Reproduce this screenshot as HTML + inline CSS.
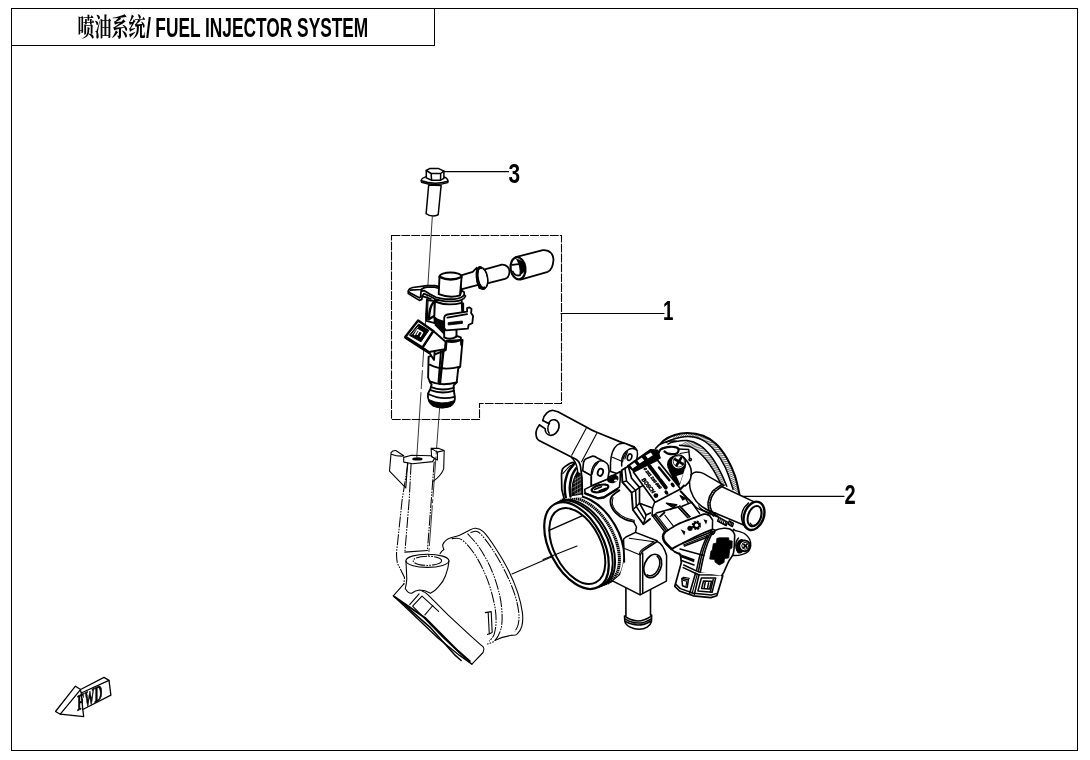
<!DOCTYPE html>
<html><head><meta charset="utf-8"><title>喷油系统/ FUEL INJECTOR SYSTEM</title>
<style>
html,body{margin:0;padding:0;background:#fff;}
body{width:1090px;height:760px;overflow:hidden;position:relative;}
svg{position:absolute;left:0;top:0;display:block;filter:grayscale(1);}
.k{fill:none;stroke:#000;stroke-width:1.5;stroke-linejoin:round;stroke-linecap:round;}
.t{fill:none;stroke:#000;stroke-width:1.1;stroke-linejoin:round;stroke-linecap:round;}
.h{fill:none;stroke:#000;stroke-width:2;stroke-linejoin:round;stroke-linecap:round;}
.w{fill:#fff;stroke:#000;stroke-width:1.5;stroke-linejoin:round;stroke-linecap:round;}
.p{fill:none;stroke:#000;stroke-width:1.05;stroke-dasharray:11 1.2 1.6 1.2 1.6 1.2;}
#inj .k,#inj .w{stroke-width:1.9}#inj .h{stroke-width:2.4}#tube .w,#tube .k,#sleeve .w,#sleeve .k{stroke-width:1.8}
.lbl{font-family:"Liberation Sans",sans-serif;font-weight:bold;font-size:26px;fill:#000;}
</style></head><body>
<svg width="1090" height="760" viewBox="0 0 1090 760">
<!-- FRAME -->
<g fill="none" stroke="#000" stroke-width="1" shape-rendering="crispEdges">
<rect x="11.5" y="8.5" width="1066" height="742"/>
<path d="M11.5 45.5H434.5V8.5"/>
</g>
<!-- TITLE -->
<text id="tcn" x="77.5" y="36.2" font-family="'Liberation Serif','Noto Serif CJK SC',serif" font-weight="bold" font-size="24.5" textLength="68" lengthAdjust="spacingAndGlyphs">喷油系统</text>
<text id="tsl" class="lbl" x="146" y="36.9" style="font-size:27px" textLength="5" lengthAdjust="spacingAndGlyphs">/</text>
<text id="ten" class="lbl" x="155.3" y="36.9" style="font-size:27px" textLength="213" lengthAdjust="spacingAndGlyphs">FUEL INJECTOR SYSTEM</text>
<!-- LABELS -->
<g id="labels">
<text class="lbl" x="508.4" y="183.4" style="font-size:28px" textLength="11.6" lengthAdjust="spacingAndGlyphs">3</text>
<text class="lbl" x="663" y="320.4" style="font-size:28px" textLength="10.4" lengthAdjust="spacingAndGlyphs">1</text>
<text class="lbl" x="844.5" y="504.3" style="font-size:28px" textLength="11.2" lengthAdjust="spacingAndGlyphs">2</text>
</g>
<!-- LEADERS -->
<g id="leaders" class="t" style="stroke-width:1.2">
<path d="M443.5 171.7H508.5"/>
<path d="M561 313.5H664"/>
<path d="M739.5 496.3H844"/>
</g>
<!-- DASHED BOX -->
<path id="dbox" d="M391.5 235.5H561.5V403.5H479.5V419.5H391.5Z" fill="none" stroke="#000" stroke-width="1.1" stroke-dasharray="8.8 1.1"/>
<!-- MANIFOLD (phantom) -->
<g id="manifold">
<!-- axis manifold-throttle -->
<path class="t" d="M512 574L577 546"/>
<!-- boss ears + top -->
<path class="t" d="M391.1 452.6Q392.5 450.3 395.8 450.5L403.7 455.8M391.1 452.6L389.5 471.1L405.8 487.9L407.6 463M391.4 454.2Q397 456.5 403.7 456"/>
<path class="t" d="M403.7 457.4L411.6 455.3L430.5 455.8L434.7 458.4L432.6 461.6L412.6 463.7L403.7 462.1Z"/>
<ellipse cx="417.4" cy="458.9" rx="5.2" ry="1.7" fill="#000"/>
<path class="t" d="M431.1 448.4H438.9L444.2 450.5L443.7 468.9Q441 476 432.8 481.6M431.1 448.4L431.6 456.8L437.4 460V452.1L444.2 450.5M431.1 448.4L437.4 452.1"/>
<!-- column -->
<path class="p" d="M407.9 463.7L402.1 500L396.6 552.1Q396.3 558 397.4 563.2L404.5 577.4L403.7 585.3"/>
<path class="p" d="M411.1 463.7L409.2 500L404.9 552.1"/>
<path class="p" d="M434.2 461.6L431.3 500L427.4 550.5"/>
<path class="t" d="M404.9 552.1L427.4 550.5"/>
<!-- cup -->
<ellipse class="t" cx="427.4" cy="560.8" rx="21.5" ry="6.6" fill="#fff"/>
<ellipse class="p" cx="427.4" cy="560.8" rx="14.2" ry="4.6"/>
<path class="t" d="M406 561L406.8 579Q406.5 584 405.3 588.4Q408 593.5 411.6 593.2Q415.5 590.5 419.5 590Q425 590 430.5 593.2Q435 591 438.4 586.8Q443.5 581.5 445.5 575.8Q448.5 568 449 561"/>
<!-- boot outlines -->
<path class="t" d="M443.8 549.5C443.6 548.7 442.3 546.1 442.8 544.5C443.3 542.9 445.3 540.8 446.8 539.6C448.3 538.5 449.6 538.3 451.7 537.6C453.8 536.9 456.8 536.4 459.6 535.3C462.4 534.1 465.9 531.9 468.5 530.7C471.1 529.5 472.9 528.0 475.4 528.2C477.9 528.4 480.0 528.5 483.3 531.7C486.6 534.9 490.8 540.9 495.1 547.5C499.4 554.1 505.1 563.6 508.9 571.2C512.7 578.8 515.5 586.0 517.8 592.9C520.0 599.8 521.7 607.0 522.4 612.6C523.1 618.2 522.7 622.8 521.8 626.4C520.9 630.0 518.4 632.8 516.8 634.3C515.1 635.8 512.7 635.1 511.9 635.3"/>
<path class="p" d="M470.5 532.7C471.4 532.5 474.2 530.9 476.0 531.2C477.8 531.5 478.4 531.5 481.3 534.7C484.2 537.9 489.1 544.1 493.2 550.5C497.3 556.9 502.4 565.8 506.0 573.2C509.6 580.6 512.8 588.3 514.9 594.9C517.0 601.5 518.2 607.7 518.8 612.6C519.3 617.5 518.9 621.4 518.2 624.5C517.6 627.6 515.5 630.2 514.9 631.4"/>
<path class="p" d="M467.5 533.7C469.5 536.0 475.4 541.6 479.3 547.5C483.2 553.4 487.9 561.6 491.2 569.2C494.5 576.8 497.3 585.7 499.1 592.9C500.9 600.1 501.7 606.7 502.0 612.6C502.3 618.5 502.2 623.8 501.1 628.4C500.0 633.0 497.4 637.7 495.1 640.3C492.8 642.9 488.5 643.6 487.2 644.2"/>
<path class="p" d="M451.7 538.6C453.4 538.8 457.7 536.8 461.6 539.6C465.6 542.4 471.1 548.8 475.4 555.4C479.7 562.0 484.1 571.2 487.2 579.1C490.3 587.0 492.6 595.9 494.1 602.8C495.6 609.7 496.1 615.2 496.1 620.5C496.1 625.8 495.2 630.8 494.1 634.3C493.0 637.8 490.0 640.1 489.2 641.2"/>
<path class="t" d="M440 553.7Q441.5 551 443.8 549.5"/>
<path class="t" d="M485.3 612.6L491.2 611.6L492.2 632.4L487.5 634.5M488.2 613L489.3 634"/>
<path class="t" d="M511.9 635.3Q503 636.5 495.1 640.3"/>
<!-- flange -->
<path class="t" d="M393.3 595.8L403.9 583.8M422 591Q425 592 427.8 594.6L448 614.9L469.8 635.1L481.3 645.3Q484 647 483.9 648.9L483.1 652.5L471.9 664.1"/>
<path class="t" style="stroke-width:1.3" d="M393.3 595.8L409 610.5L437.9 638L459.6 655.4L471.9 664.1"/>
<path class="h" d="M394.5 596.8L424.9 617.8L458.2 651.1L469.8 661.2"/>
<path class="k" d="M400.3 601.1L430.7 627.9L455.3 655.4L461.1 660.5"/>
<path class="t" d="M409.7 604.7L419.1 593.9M412.6 606.2L422 596.1L438.6 611.3M424.9 614.9L432.8 605.5M412.6 606.2L443.7 638L465.4 658.3"/>
</g>
<!-- THROTTLE BODY 2 -->
<g id="tb">
<path class="w" d="M655.8 450.0C657.1 448.4 660.6 443.0 663.7 440.5C666.9 438.0 670.8 436.3 674.7 435.0C678.6 433.7 682.6 432.8 687.3 432.9C692.0 433.0 698.4 434.0 703.1 435.8C707.9 437.6 711.8 440.0 715.8 443.7C719.8 447.4 723.6 452.6 726.8 457.9C729.9 463.1 732.6 469.1 734.7 475.2C736.8 481.2 738.5 489.6 739.4 494.2C740.2 498.8 739.7 501.5 739.8 503.0L700 510L660 470Z" style="stroke:none"/>
<path class="h" d="M655.8 450.0C657.1 448.4 660.6 443.0 663.7 440.5C666.9 438.0 670.8 436.3 674.7 435.0C678.6 433.7 682.6 432.8 687.3 432.9C692.0 433.0 698.4 434.0 703.1 435.8C707.9 437.6 711.8 440.0 715.8 443.7C719.8 447.4 723.6 452.6 726.8 457.9C729.9 463.1 732.6 469.1 734.7 475.2C736.8 481.2 738.5 489.6 739.4 494.2C740.2 498.8 739.7 501.5 739.8 503.0"/>
<path class="k" d="M666.0 442.5C666.9 442.0 668.1 440.7 671.6 439.7C675.1 438.7 682.3 436.6 687.3 436.6C692.3 436.6 697.1 437.5 701.6 439.7C706.1 441.9 710.3 445.4 714.2 450.0C718.1 454.6 722.1 460.7 725.2 467.3C728.4 473.9 731.8 485.7 733.1 489.4"/>
<path class="k" d="M668.0 444.0C668.9 443.7 669.9 442.7 673.1 442.1C676.3 441.5 682.8 440.0 687.3 440.5C691.8 441.0 696.0 442.7 700.0 445.3C704.0 447.9 707.6 451.8 711.0 456.3C714.4 460.8 717.9 467.1 720.5 472.1C723.1 477.1 725.8 483.9 726.8 486.3"/>
<path class="k" d="M679.5 445.3C681.6 445.7 688.2 445.8 692.1 447.6C696.0 449.4 699.7 452.8 703.1 456.3C706.5 459.9 709.7 464.4 712.6 468.9C715.5 473.4 719.2 480.7 720.5 483.1"/>
<path class="t" d="M675.9 434.7 L672.7 439.4M678.4 434.1 L674.9 438.9M680.8 433.6 L677.1 438.3M683.3 433.2 L679.3 437.8M685.8 432.9 L681.6 437.3M688.3 432.9 L683.8 436.9M690.8 433.1 L686.1 436.7M693.3 433.4 L688.4 436.6M695.8 433.8 L690.6 436.7M698.3 434.4 L692.9 437.0M700.7 435.0 L695.1 437.4M703.1 435.8 L697.4 438.0M705.4 436.8 L699.5 438.8M707.7 437.9 L701.6 439.7M709.9 439.1 L703.6 440.8M711.9 440.5 L705.5 442.0M713.9 442.1 L707.3 443.4M715.8 443.7 L709.1 444.8M717.6 445.5 L710.8 446.4M719.3 447.4 L712.4 448.0M720.9 449.3 L713.9 449.7M722.4 451.3 L715.4 451.4M723.9 453.4 L716.8 453.2M725.3 455.5 L718.1 455.1M726.6 457.6 L719.4 457.0M727.9 459.8 L720.6 458.9M729.1 462.0 L721.8 460.9M730.2 464.2 L722.9 462.8M731.3 466.5 L724.0 464.8M732.3 468.8 L725.0 466.9M733.2 471.1 L725.9 469.0M734.1 473.5 L726.8 471.1M734.9 475.9 L727.6 473.2M735.7 478.3 L728.4 475.3M736.3 480.7 L729.2 477.5M736.9 483.2 L729.9 479.6M737.5 485.6 L730.6 481.8M738.0 488.1 L731.3 484.0M738.6 490.5 L732.0 486.2M739.1 493.0 L732.7 488.3" style="stroke-width:0.6"/>
<path class="t" d="M688.5 440.9 L680.6 445.4M690.8 441.6 L682.9 445.7M693.1 442.3 L685.1 445.9M695.4 443.1 L687.4 446.3M697.7 444.0 L689.6 446.7M699.8 445.2 L691.7 447.5M701.8 446.6 L693.8 448.5M703.6 448.1 L695.7 449.7M705.4 449.8 L697.5 451.1M707.1 451.6 L699.2 452.5M708.7 453.4 L700.9 454.1M710.2 455.3 L702.5 455.7M711.7 457.2 L704.1 457.3M713.1 459.2 L705.5 459.1M714.4 461.3 L707.0 460.8M715.7 463.4 L708.3 462.6M716.9 465.5 L709.6 464.5M718.1 467.6 L710.9 466.4M719.2 469.7 L712.2 468.3M720.4 471.9 L713.4 470.2M721.5 474.0 L714.6 472.1M722.5 476.2 L715.7 474.1M723.5 478.5 L716.8 476.1M724.5 480.7 L717.8 478.1M725.4 482.9 L718.9 480.1M726.3 485.2 L720.0 482.1" style="stroke-width:0.55"/>
<path class="w" d="M690.8 475.0C691.3 474.6 692.8 473.1 694.0 472.6C695.2 472.1 696.2 472.0 697.8 472.2C699.4 472.4 699.4 471.4 703.7 473.6C708.0 475.8 720.4 483.4 723.8 485.4L717.9 516.2C715.1 515.0 705.4 512.2 701.3 509.1C697.1 506.0 694.8 501.2 693.0 497.3C691.2 493.4 691.1 488.3 690.7 485.4C690.3 482.5 690.7 480.9 690.7 480.0Z" style="stroke:none"/>
<path class="k" d="M690.8 475.0C691.3 474.6 692.8 473.1 694.0 472.6C695.2 472.1 696.2 472.0 697.8 472.2C699.4 472.4 699.4 471.4 703.7 473.6C708.0 475.8 720.4 483.4 723.8 485.4"/>
<path class="k" d="M690.7 480.0C690.7 480.9 690.3 482.5 690.7 485.4C691.1 488.3 691.2 493.4 693.0 497.3C694.8 501.2 697.1 506.0 701.3 509.1C705.4 512.2 715.1 515.0 717.9 516.2"/>
<path class="w" d="M719.1 485.4L755.8 502.6L751.1 529.2L714.4 512.7Z" style="stroke:none"/>
<path class="k" d="M721.0 486.2L755.8 502.6"/>
<path class="k" d="M714.4 512.7L746.0 526.0"/>
<path class="k" d="M723.8 485.4C722.2 486.6 716.7 489.7 714.4 492.5C712.1 495.3 710.7 499.0 710.2 502.0C709.7 505.0 710.4 508.1 711.4 510.3C712.4 512.5 715.2 514.6 716.0 515.5"/>
<path class="k" d="M721.5 484.6C720.0 485.8 714.6 488.7 712.4 491.5C710.2 494.3 708.7 498.3 708.2 501.5C707.7 504.7 708.3 508.4 709.2 510.8C710.1 513.2 712.8 515.1 713.5 516.0"/>
<path class="t" d="M722.7 486.2 L720.4 485.4M720.4 487.6 L718.0 486.9M718.2 489.2 L715.8 488.4M716.1 490.8 L713.6 490.2M714.2 492.8 L711.8 492.3M712.7 495.0 L710.4 494.7M711.5 497.4 L709.4 497.2M710.7 500.0 L708.6 499.8M710.1 502.6 L708.1 502.6M710.1 505.3 L708.1 505.3M710.6 508.0 L708.4 508.0M711.5 510.5 L709.2 510.7M713.1 512.7 L710.6 513.1M715.0 514.6 L712.5 515.0" style="stroke-width:0.7"/>
<ellipse class="w" cx="754.0" cy="515.8" rx="9.8" ry="14.6" transform="rotate(20.0 754.0 515.8)" style="stroke-width:2.4"/>
<ellipse class="k" cx="754.6" cy="516.1" rx="6.4" ry="10.6" transform="rotate(20.0 754.6 516.1)" style="stroke-width:2"/>
<path class="t" d="M760.7 509.9C760.8 510.3 761.1 511.3 761.2 512.0C761.3 512.8 761.3 513.7 761.2 514.6C761.2 515.5 761.0 516.5 760.7 517.4C760.4 518.3 760.0 519.2 759.6 520.0C759.2 520.9 758.7 521.7 758.2 522.4C757.6 523.0 757.0 523.7 756.4 524.1C755.8 524.6 755.2 524.9 754.6 525.1C754.0 525.3 753.4 525.4 752.9 525.3C752.3 525.2 751.8 525.0 751.4 524.6C751.0 524.2 750.5 523.3 750.3 523.1"/>
<path class="k" d="M748.5 503.0C747.8 503.8 745.1 506.0 744.0 508.0C742.9 510.0 741.9 512.7 741.6 515.0C741.3 517.3 741.8 519.9 742.4 522.0C743.0 524.1 745.0 526.6 745.5 527.5"/>
<path class="k" d="M719.0 517.4L727.4 522.1L726.2 525.5L717.6 521.0Z"/>
<path class="t" d="M720.6 518.3L719.4 521.9M722.4 519.3L721.2 522.9M724.2 520.3L723 523.9M726 521.3L724.8 524.9"/>
<path class="k" d="M729.2 520.9L733.4 523.3L732.4 526.6L728.2 524.2Z"/>
<path class="t" d="M730.6 521.8L729.6 525M732 522.6L731 525.8"/>
<ellipse class="w" cx="589.9" cy="539.3" rx="47.4" ry="28.8" transform="rotate(59.7 589.9 539.3)" style="stroke-width:2.2"/>
<ellipse class="w" cx="585.6" cy="541.3" rx="47.2" ry="28.2" transform="rotate(60.5 585.6 541.3)" style="stroke-width:3;stroke-dasharray:1.5 0.5;stroke-linecap:butt"/>
<ellipse class="w" cx="581.9" cy="543.1" rx="47.1" ry="27.6" transform="rotate(61.2 581.9 543.1)" style="stroke-width:1.9"/>
<ellipse class="w" cx="579.9" cy="544.0" rx="47.0" ry="27.3" transform="rotate(61.6 579.9 544.0)" style="stroke-width:1.9"/>
<ellipse class="w" cx="576.5" cy="545.6" rx="46.9" ry="26.8" transform="rotate(62.2 576.5 545.6)" style="stroke-width:2.2"/>
<ellipse class="w" cx="577.3" cy="546.0" rx="40.9" ry="23.5" transform="rotate(63.0 577.3 546.0)" style="stroke-width:2"/>
<path class="k" d="M549.1 530.4L582.0 515.9" style="stroke-width:1.5"/>
<path class="t" d="M543.0 559.6L577.0 546.0"/>
<path class="k" d="M619.5 490.3C618.2 491.4 613.0 494.4 611.6 496.8C610.2 499.2 610.2 502.1 610.9 504.7C611.5 507.3 613.2 510.2 615.5 512.6C617.8 515.0 621.6 517.7 624.7 519.2C627.8 520.7 632.4 521.4 633.9 521.8" style="stroke-width:1.8"/>
<path class="t" d="M613.0 497.5C612.9 498.6 611.8 501.9 612.4 504.3C613.0 506.7 614.5 509.4 616.6 511.6C618.8 513.9 622.3 516.3 625.3 517.8C628.3 519.2 633.0 519.9 634.5 520.3"/>
<path class="k" d="M633.9 522.4L636.5 527.0L635.5 532.4"/>
<path class="w" d="M625.9 586.0L625.9 616.1L624.5 616.1L624.9 621.6C626 626 633 629.3 639.2 629.3C645 629.3 650.5 626 651.4 621.6L651.7 615.1L650.5 615.1L650.5 588Z" style="stroke-width:1.6"/>
<path class="k" d="M625.9 617Q638.3 625 650.5 616.6M625.3 619.2Q638.3 627.2 651.2 618.8M625.3 621.4Q638.3 629 651.2 621"/>
<path class="w" d="M623.4 541.5L623.8 538.8L626.0 537.0L635.5 532.4L657.1 540.8L664.5 551.3L666.6 555.5L666.4 581.1L640.1 594.9L613.0 581.1L620.0 575.0L624.5 559.7Z" style="stroke:none"/>
<path class="k" d="M623.4 541.5L623.8 538.8L626.0 537.0L635.5 532.4L657.1 540.8"/>
<path class="t" d="M629.2 538.2L653.9 541.8M623.9 548.2L639.2 554.5"/>
<path class="t" d="M639.2 554.5Q640 550.5 642.4 549.2L653.9 541.8"/>
<path class="k" d="M640.3 555Q641.2 551.5 644 550L657.1 541.5Q663 543.5 666.6 555.5L666.4 581.1L640.1 594.9L613 581.1"/>
<path class="k" d="M623.6 541.5L624.5 562.0"/>
<path class="k" d="M640.1 555.0L640.1 594.5M642.7 553.0L642.7 593.2"/>
<ellipse class="k" cx="652.7" cy="566.0" rx="8.3" ry="12.2" transform="rotate(22.0 652.7 566.0)" style="stroke-width:1.7"/>
<path class="k" d="M657.2 556.4C657.4 556.6 658.1 557.2 658.5 557.8C658.9 558.3 659.2 559.0 659.4 559.7C659.6 560.4 659.7 561.3 659.7 562.1C659.8 562.9 659.7 563.8 659.6 564.7C659.4 565.5 659.2 566.5 658.9 567.3C658.6 568.2 658.2 569.1 657.8 569.9C657.4 570.6 656.9 571.4 656.3 572.1C655.8 572.8 655.2 573.4 654.5 573.9C653.9 574.4 653.3 574.8 652.6 575.1C652.0 575.4 651.3 575.6 650.7 575.7C650.0 575.8 649.4 575.8 648.8 575.6C648.2 575.5 647.4 575.0 647.2 574.8"/>
<path class="w" d="M574.5 462.2L569.7 463.4L562.6 469.0L561.5 473.7L561.8 489.5L564.2 499.0L582 497L582 466Z" style="stroke:none"/>
<path class="k" d="M574.5 462.2C573.7 462.4 571.2 462.7 569.7 463.4C568.2 464.1 566.7 465.3 565.5 466.2C564.3 467.1 563.3 467.8 562.6 469.0C561.9 470.2 561.7 472.9 561.5 473.7M561.5 473.7L561.8 489.5L564.2 499.0" style="stroke-width:1.7"/>
<path class="t" d="M573.7 464.4L569.7 466.0L562.8 473.7"/>
<path class="h" d="M574.5 463.6C573.8 464.5 571.2 467.3 570.0 469.0C568.8 470.7 568.2 471.3 567.4 473.7C566.6 476.1 565.4 480.3 565.0 483.2C564.6 486.1 564.8 488.6 564.9 491.0C565.0 493.4 565.6 496.3 565.8 497.4" style="stroke-width:2.4"/>
<path class="h" d="M576.1 468.2C575.6 469.0 574.0 471.4 573.2 473.0C572.4 474.6 571.9 475.1 571.3 477.6C570.7 480.1 569.8 484.7 569.7 487.9C569.6 491.1 570.4 495.2 570.5 496.6" style="stroke-width:2.4"/>
<path d="M576.9 471.5L581.6 473.7L582.4 494.4L571.5 496.2Q570.2 482 576.9 471.5Z" fill="#000"/>
<path d="M574.5 480L581 476M573 484L581.6 479M572.3 488L582 482.5M572.3 492L582 486.5M574.8 494.5L582 490.5M577.8 494L582 491.7" fill="none" stroke="#fff" stroke-width="0.4"/>
<path d="M575.3 477L575 494M577.8 474.5L577.5 494.5M580.2 474L580 494.5" fill="none" stroke="#fff" stroke-width="0.3"/>
<path class="w" d="M542.8 420.4C544 414 549 410 553.3 410.5L557.9 411.8L586.2 427L596.7 432.2L619.1 441.4L634.2 446.7L612 466L583 470L577 459.9L570.4 456.6L539.5 440.8C536.5 438 535.5 433 536.6 430L539.5 425L546 429Z" style="stroke:none"/>
<path class="h" d="M542.8 420.4C544 414 549 410 553.3 410.5L557.9 411.8L586.2 427Q591 430 596.7 432.2L619.1 441.4L634.2 446.7" style="stroke-width:1.7"/>
<path class="h" d="M539.5 425C537 428 535.8 431 536 434C536.2 437.5 537.5 439.8 539.5 440.8L570.4 456.6L576 459.2C579 461 580 463 580.5 466.5L582 478L582.4 495" style="stroke-width:1.7"/>
<path class="k" d="M571.5 457.5C575 460.5 576.5 464 577.3 469L578.2 476"/>
<path class="h" d="M542.8 420.4L548.6 423.6C549.8 420.8 552.5 419.4 555 419.9C558.5 420.7 559.6 424.5 558.9 427.7C558 432 554.5 435.6 550.5 435.4C547 435 545 431.8 545.1 428.6L539.5 425" style="stroke-width:1.7"/>
<path class="k" d="M549.5 423.2C547.3 426 547.3 430.5 549.2 433.2"/>
<path class="t" d="M586.2 428.3L571.7 455.3M596.7 433.6L581.6 461.8"/>
<path class="w" d="M610.5 471.5L610.5 463.2C610.8 455 613 448.5 617.1 445C620 443 623 443 625 443.4L635.5 448Q637.6 450 637.5 454L636 466L622 475Z" style="stroke-width:1.5"/>
<path class="k" d="M621.7 466L621.7 461.8C621.8 457 624 452 628.9 449.3C632 448 635 448.6 636.8 450.2"/>
<path class="t" d="M612.5 457.2L621.7 461.2"/>
<path class="t" d="M623.3 458.5L626 452.5M624.8 459L627.6 451.5M622.6 462L623.8 456"/>
<ellipse class="k" cx="629.6" cy="457.2" rx="2.1" ry="3.4" transform="rotate(18.0 629.6 457.2)" style="stroke-width:1.6"/>
<path class="w" d="M584.7 489.3L592.2 485.6L607.8 478.9L620.2 471.5L620.2 479.8L619.4 487.2L603.7 497.1L597.9 497.9L585.1 493.0Z" style="stroke-width:1.5"/>
<path class="h" d="M585.1 493.4L597.9 498.4L603.7 497.6L617.5 489.0" style="stroke-width:2.2"/>
<ellipse class="w" cx="600.0" cy="488.4" rx="8.6" ry="3.4" transform="rotate(-14.0 600.0 488.4)" style="stroke-width:2.2"/>
<path class="k" d="M594.5 489.5L601.5 486.8M599 491L606 488.2"/>
<ellipse cx="612.8" cy="478.9" rx="5.8" ry="4.2" fill="#000" transform="rotate(-15 612.8 478.9)"/>
<ellipse cx="615.8" cy="480.4" rx="1.8" ry="1" fill="#fff"/>
<path class="w" d="M582.7 470.7L583.5 462.4C584.5 459.5 585.8 458.6 587.2 458.3L592.2 456.2C594 455.8 596 457 597.9 458.3L604.5 461.6C607 463 608 464 608.3 465.7L609.1 471.5L607.8 478.9L592.2 485.6L591.3 485.6L591.3 475.6Z" style="stroke-width:1.6"/>
<path class="k" d="M591.3 485.6L591.3 475.6C591.3 470 592.8 466 595.5 463.3C597.5 461.3 600.4 460.5 603 460.9"/>
<path class="t" d="M582.7 470.7L591.3 475.6"/>
<path class="t" d="M592.6 471.5L595.6 464.8M593.8 468L597.2 462.8M595.5 466L599 461.5M592 474.5L593.6 469"/>
<ellipse class="k" cx="600.4" cy="472.3" rx="2.6" ry="3.7" transform="rotate(20.0 600.4 472.3)" style="stroke-width:1.8"/>
<path class="w" d="M628.3 466.3L621.7 470.3L622.4 482.1L631.6 492.6L632.9 509.7L643.4 524.2L650.0 518.9L664.8 532.4L700.0 512.0L691.0 478.0L680.0 452.0L660.0 444.0Z" style="stroke:none"/>
<path class="h" d="M628.3 466.3L621.7 470.3L622.4 482.1L631.6 492.6L632.9 509.7L643.4 524.2L650.0 518.9" style="stroke-width:1.9"/>
<path class="h" d="M628.3 466.3L631.6 478.2L639.5 487.4L639.5 503.2L646.1 515.0L650.5 513.0" style="stroke-width:1.7"/>
<path class="k" d="M625.0 468.3L626.5 481.0L635.6 490.4L636.3 506.5L644.8 519.6"/>
<path class="k" d="M622.4 482.1L626.5 481.0M631.6 492.6L635.6 490.4L639.5 487.4M632.9 509.7L636.3 506.5L639.5 503.2M643.4 524.2L644.8 519.6L646.1 515.0"/>
<path class="k" d="M639.5 487.4L646.0 484.0M639.5 503.2L652.5 508.0"/>
<path class="h" d="M655.5 448.7C656.1 448.1 657.5 446.1 659.0 445.0C660.5 443.9 662.4 443.1 664.2 442.4C666.0 441.7 668.0 441.2 670.0 441.0C672.0 440.8 675.4 441.2 676.5 441.2" style="stroke-width:1.6"/>
<path class="h" d="M658.7 452.6C659.0 452.1 659.6 450.3 660.5 449.5C661.4 448.7 662.6 448.3 664.2 447.9C665.8 447.4 668.1 446.9 670.0 446.8C671.9 446.7 673.9 446.8 675.3 447.1C676.7 447.4 677.8 447.9 678.3 448.5C678.8 449.1 678.7 450.0 678.5 450.8C678.3 451.6 678.0 452.8 676.9 453.4C675.8 454.0 673.6 454.2 672.0 454.2C670.4 454.2 668.6 453.8 667.4 453.4C666.1 452.9 665.0 451.8 664.5 451.5" style="stroke-width:2.2"/>
<path class="k" d="M678.0 449.0L688.7 449.5L689.6 458.0"/>
<ellipse class="k" cx="690.2" cy="459.6" rx="1.2" ry="1.2"/>
<path class="t" d="M680.0 453.5L688.5 452.0"/>
<path class="h" d="M683.2 457.0C684.0 457.9 686.7 460.6 688.0 462.5C689.3 464.4 690.2 466.5 690.8 468.5C691.3 470.5 691.5 472.4 691.3 474.5C691.1 476.6 690.5 479.2 689.5 481.1C688.5 483.0 685.8 485.2 685.0 486.0" style="stroke-width:1.6"/>
<circle cx="676.6" cy="464.6" r="9.6" fill="#000"/>
<path d="M668.5 470L674 481.5L679.5 486L684.5 470Z" fill="#000"/>
<path d="M676.5 476L679.8 483.5L683 474Z" fill="#fff"/>
<circle cx="678.4" cy="462" r="7.1" fill="#fff" stroke="#000" stroke-width="1.3"/>
<circle cx="678.8" cy="461.4" r="5.6" fill="none" stroke="#000" stroke-width="0.8"/>
<path d="M675.2 459.3L682.6 463.9M681.2 457.9L676.6 465.3" fill="none" stroke="#000" stroke-width="2.6" stroke-linecap="round"/>
<path d="M627.6 465.8L650.5 449.5L657.6 450L660.2 458L635.5 472.8Z" fill="#000" stroke="#000" stroke-width="1.2" stroke-linejoin="round"/>
<path d="M630.3 465.6L634.5 462.6L637 465.4L632.6 468.4ZM637.2 460.8L641.8 457.6L644.2 460.4L639.6 463.4ZM645.6 455.4L650.8 452.4L652.8 455.2L647.8 458.4Z" fill="#fff"/>
<path d="M633.4 472L657.5 460.1L680.6 489L655.2 502.2Z" fill="#fff" stroke="#000" stroke-width="1.7" stroke-linejoin="round"/>
<text transform="matrix(0.62 0.78 -0.9 0.44 641.2 479.6)" font-family="'Liberation Sans',sans-serif" font-weight="bold" font-size="5.6" fill="#000" stroke="#000" stroke-width="0.5" textLength="18" lengthAdjust="spacingAndGlyphs">BOSCH</text>
<text transform="matrix(0.62 0.78 -0.9 0.44 643.2 468.8)" font-family="'Liberation Sans',sans-serif" font-weight="bold" font-size="4.2" fill="#000" stroke="#000" stroke-width="0.45" textLength="26" lengthAdjust="spacingAndGlyphs">0 261 230 099</text>
<path d="M649.4 466L665.8 487.5" fill="none" stroke="#000" stroke-width="3.8" stroke-linecap="round" stroke-dasharray="15 2.5 20"/>
<path d="M659 467.4L669.4 480.2" fill="none" stroke="#000" stroke-width="2.4" stroke-linecap="round"/>
<ellipse cx="672.7" cy="485" rx="2.6" ry="1.7" fill="#000" transform="rotate(50 672.7 485)"/>
<ellipse cx="666.4" cy="492.6" rx="2.4" ry="1.7" fill="#000" transform="rotate(50 666.4 492.6)"/>
<circle cx="655.9" cy="495.6" r="2.4" fill="#000"/>
<path class="h" d="M680.6 489.0L684.0 485.5M680.6 491.3L686.5 497.5L691.6 502.4" style="stroke-width:2"/>
<path class="k" d="M654.5 502.4L652.5 508.0L652.1 515.8"/>
<path d="M652.1 515.8L655.6 513.6L668.3 530.2L664.8 532.4Z" fill="#000" stroke="#000" stroke-width="1"/>
<path d="M654 516.5L666 532M655.8 515.2L667.6 530.8" fill="none" stroke="#fff" stroke-width="0.45"/>
<path d="M677.4 507.1L680.2 505.6L690.5 516.8L687.7 518.2Z" fill="#000" stroke="#000" stroke-width="0.9"/>
<path d="M679 506.8L689.2 517.8" fill="none" stroke="#fff" stroke-width="0.45"/>
<path class="h" d="M656.5 513.0L677.4 507.1M660.0 516.6L664.5 512.5" style="stroke-width:1.7"/>
<path class="t" d="M664.8 515.2L675.8 529.2L684.5 540.3"/>
<path class="k" d="M682.1 506.3L691.6 502.4L699.5 513.4"/>
<path d="M666.3 503.2L676.6 504.7L671.1 506.6Z" fill="#000" stroke="#000" stroke-width="1.2" stroke-linejoin="round"/>
<path class="h" d="M676.6 504.7L670.5 509.5" style="stroke-width:1.5"/>
<path d="M680.2 495.6L685.5 498.2L682.8 500Z" fill="#000" stroke="#000" stroke-width="1.2" stroke-linejoin="round"/>
<path class="h" d="M685.5 498.2L688.5 503.5" style="stroke-width:1.5"/>
<path class="w" d="M664.8 532.4C666.9 531.1 672.7 526.9 677.4 524.5C682.1 522.1 688.7 519.9 693.2 518.2C697.7 516.5 701.5 514.7 704.2 514.2C706.9 513.8 708.6 515.3 709.5 515.5L712.4 529.5L712.4 529.5C710.5 530.2 706.1 531.7 701.1 534.0C696.1 536.3 687.0 541.0 682.1 543.5C677.2 546.0 673.3 548.1 671.5 549.0Z" style="stroke:none"/>
<path class="h" d="M664.8 532.4C666.9 531.1 672.7 526.9 677.4 524.5C682.1 522.1 688.7 519.9 693.2 518.2C697.7 516.5 701.5 514.7 704.2 514.2C706.9 513.8 708.6 515.3 709.5 515.5" style="stroke-width:1.8"/>
<path class="h" d="M671.5 549.0C673.3 548.1 677.2 546.0 682.1 543.5C687.0 541.0 696.1 536.3 701.1 534.0C706.1 531.7 710.5 530.2 712.4 529.5" style="stroke-width:1.8"/>
<path class="h" d="M664.8 532.4C664.5 533.0 663.0 534.5 663.0 536.0C663.0 537.5 663.1 539.3 664.5 541.5C665.9 543.7 670.3 547.8 671.5 549.0" style="stroke-width:2.6"/>
<path class="k" d="M709.5 515.5L712.6 520.0L712.4 529.5"/>
<path d="M680.6 529.2L685.4 531.4L684.2 535.4Z" fill="#000"/>
<circle cx="696.4" cy="525.3" r="3.6" fill="#000" stroke="#000" stroke-width="2.2" stroke-dasharray="1.9 0.9"/>
<circle cx="696.6" cy="525.2" r="1.7" fill="#fff"/>
<circle cx="690" cy="528.3" r="2.6" fill="#000"/>
<path d="M703.4 519.2L707.4 520.6L706 524.4Z" fill="#000"/>
<path class="w" d="M733.0 531.0C733.6 527.5 733.8 530.2 735.8 530.7C737.8 531.2 742.8 532.2 745.3 534.2C747.8 536.2 750.2 539.5 750.6 542.5C751.0 545.5 750.1 549.8 747.6 552.0C745.1 554.2 738.4 555.5 735.8 555.5C733.2 555.5 732.5 556.1 732.0 552.0C731.5 547.9 732.4 534.5 733.0 531.0Z" style="stroke-width:1.4"/>
<ellipse cx="740.6" cy="546.2" rx="4.6" ry="7.4" fill="#000" transform="rotate(12 740.6 546.2)"/>
<circle cx="744.6" cy="545.8" r="5.4" fill="#fff" stroke="#000" stroke-width="2"/>
<circle cx="745.2" cy="545.8" r="3.4" fill="none" stroke="#000" stroke-width="1"/>
<path d="M743.4 544L747.2 547.6M747.2 543.8L743.4 548" fill="none" stroke="#000" stroke-width="1.8"/>
<path class="k" d="M738.5 538.0C738.1 538.7 736.6 540.3 736.2 542.0C735.8 543.7 735.8 546.2 736.2 548.0C736.6 549.8 738.1 551.8 738.5 552.5"/>
<path class="w" d="M680.7 556.7L681.3 562.6L674.8 586.3L679.5 591.0L693.2 595.8L710.9 597.6L716.8 595.8L722.8 575.7L724.0 572.0L700.0 560.0Z" style="stroke:none"/>
<path class="h" d="M679.5 553.5L680.7 556.7L681.3 562.6L674.8 586.3L679.5 591.0L693.2 595.8L710.9 597.6L716.8 595.8L722.8 575.7" style="stroke-width:1.7"/>
<path class="k" d="M675.6 584.0L680.3 588.6L693.6 593.2L711.2 595.0L716.2 593.6"/>
<path class="k" d="M683.7 565.0L699.1 572.1L721.6 572.1M683.2 567.6L698.6 574.7L721.0 574.9"/>
<path class="h" d="M695.5 573.3L689.6 593.4M699.1 574.5L694.3 594.6" style="stroke-width:1.6"/>
<path class="t" d="M697.3 574.0L692.0 594.0"/>
<path class="k" d="M701.4 578.0L715.7 578.0L712.1 592.2L697.9 591.0Z"/>
<path class="k" d="M703.5 581.0L711.5 581.3L709.6 589.0L701.6 588.5Z"/>
<path class="h" d="M705.2 582.5L704.2 587.6M708.6 582.8L707.6 587.8" style="stroke-width:1.5"/>
<path class="k" d="M713.2 579.5L710.4 591.5"/>
<path class="k" d="M681.9 578.6L688.4 579.8L687.2 587.5L682.5 585.7Z"/>
<path class="t" d="M683.4 580.4L686.9 581.2L686.0 586.0M681.9 578.6L683.5 577.2L689.3 578.2L688.4 579.8"/>
<path d="M681.3 554.4L694.6 559.3L694 562.2L680.9 557.2Z" fill="#000"/>
<path class="k" d="M681.5 560.5L694.0 565.0"/>
<path class="w" d="M712.1 533.0C712.8 532.5 714.0 530.8 716.0 530.0C718.0 529.2 721.7 528.5 723.9 528.3C726.1 528.1 727.6 528.4 729.0 528.8C730.4 529.2 731.3 529.8 732.2 530.7C733.1 531.6 734.0 532.8 734.4 534.0C734.8 535.2 734.8 534.6 734.6 537.8C734.4 541.0 734.4 549.3 733.4 553.2C732.4 557.1 730.3 558.2 728.7 561.4C727.1 564.5 725.1 569.7 723.9 572.1C722.7 574.5 722.0 575.1 721.6 575.7L700.3 572.1L703.8 555.5L707.4 543.7Z" style="stroke:none"/>
<path class="h" d="M712.1 533.0C712.8 532.5 714.0 530.8 716.0 530.0C718.0 529.2 721.7 528.5 723.9 528.3C726.1 528.1 727.6 528.4 729.0 528.8C730.4 529.2 731.3 529.8 732.2 530.7C733.1 531.6 734.0 532.8 734.4 534.0C734.8 535.2 734.8 534.6 734.6 537.8C734.4 541.0 734.4 549.3 733.4 553.2C732.4 557.1 730.3 558.2 728.7 561.4C727.1 564.5 725.1 569.7 723.9 572.1C722.7 574.5 722.0 575.1 721.6 575.7" style="stroke-width:1.6"/>
<path class="h" d="M712.1 533.0C711.3 534.8 708.8 540.0 707.4 543.7C706.0 547.5 705.0 550.8 703.8 555.5C702.6 560.2 700.9 569.3 700.3 572.1" style="stroke-width:1.6"/>
<path class="k" d="M709.6 534.5C708.8 536.2 706.3 541.4 705.0 545.0C703.7 548.6 702.7 551.6 701.6 556.0C700.5 560.4 698.9 568.8 698.4 571.4"/>
<path class="k" d="M707.3 535.6C706.5 537.3 704.1 542.5 702.8 546.0C701.5 549.5 700.6 552.4 699.6 556.5C698.6 560.6 697.0 568.2 696.5 570.6"/>
<path d="M719.2 537.8L728.7 537.8L728.9 540.5L732.2 541L732 548L729.8 549L728.7 557.9L724.5 558.5L724 562.5L719.2 565L715 562L714.8 559.5L709.7 559.1L711 551L712.2 550.5L713.3 543.7L716.5 543L716.8 538.5Z" fill="#000" stroke="#000" stroke-width="0.8" stroke-linejoin="round"/>
<path class="h" d="M671.5 549.0C672.1 549.5 673.7 551.2 675.0 552.0C676.3 552.8 678.8 553.2 679.5 553.5" style="stroke-width:1.6"/>
<path class="k" d="M682.1 543.5L712.5 531.5M684.5 546.0L708.5 536.8"/>
<path class="t" d="M683.5 545.0L711.0 534.0"/>
<ellipse class="k" cx="712.6" cy="531.8" rx="2.0" ry="2.6" transform="rotate(30.0 712.6 531.8)" style="stroke-width:1.5"/>
<path class="k" d="M675.0 552.0L681.0 555.0M680.0 549.0L703.8 555.5"/>
<path class="k" d="M691.6 502.4C692.5 503.3 694.6 506.4 697.0 508.0C699.4 509.6 702.3 510.4 706.0 512.0C709.7 513.6 716.8 516.5 719.0 517.4"/>
<path class="k" d="M689.5 481.1C689.7 482.6 689.4 486.7 690.5 490.0C691.6 493.3 693.6 497.9 696.0 501.0C698.4 504.1 701.7 506.4 705.0 508.5C708.3 510.6 714.2 512.7 716.0 513.5"/>
</g>
<!-- AXIS LINES -->
<g id="axes" class="t" style="stroke-width:0.8">
<path d="M432.3 217L416.8 457" stroke-dasharray="150 4 18 4 200"/>
<path d="M439.6 408L428.6 556" stroke-dasharray="40 3 3 3"/>
</g>
<!-- BOLT 3 -->
<g id="bolt">
<path class="w" d="M428.7 185L426.1 213.7Q431.6 217.8 438.2 214.7L441.1 185.5Z"/>
<path class="w" d="M421.3 180.6C421.3 178.5 424 177.3 426.3 176.6L443.9 177C446.5 177.8 447.9 179.3 447.9 181L447.7 182.6Q434.5 186.8 421.5 182.2Z"/>
<path class="k" d="M421.3 180.8Q434.5 185.6 447.9 181.2"/>
<path class="w" d="M426.3 170.5L430 168.4H438.2L443.9 171.1V178.4L440.5 180.2H431.6L426.3 177.9Z"/>
<path class="k" d="M426.3 170.5L431.1 173.5H440.7L443.9 171.1M431.1 173.5L431.6 180.2M440.7 173.5L440.5 180.2"/>
</g>
<!-- SLEEVE -->
<g id="sleeve">
<path class="w" d="M515.6 257.2L542.8 250.1C550 249.5 554 255 553.4 260.5C553 266 551.5 270 547.8 271.8L520.6 279.6Z"/>
<ellipse class="w" cx="518" cy="268.3" rx="7.4" ry="11.1" transform="rotate(-8 518 268.3)" style="stroke-width:2.2"/>
<path class="k" d="M512.3 264.9L522.6 263.7"/>
<path d="M517 259.5C522 260 525 265 524.8 270.5L520 275Q521.2 267 517 259.5Z" fill="#000" stroke="#000" stroke-width="1.2"/>
<path class="k" d="M512.8 271.5Q515 276.5 520 275.2"/>
</g>
<!-- TUBE FROM CAP -->
<g id="tube">
<path class="w" d="M484.8 269.3L501.9 264.7C506 264.5 509.5 267.5 509.5 271.3C509.5 275 508 278 505 278.9L487.3 283.4Z"/>
<path class="w" d="M459.5 275.8L472.7 271.8L476.7 267.8L480.2 288.4L478.2 284.9L461.1 289.4Z"/>
<ellipse class="w" cx="482.6" cy="277.9" rx="5" ry="10.6" transform="rotate(-10 482.6 277.9)" style="stroke-width:1.5"/>
<path d="M484.4 287.9C484.3 288.0 483.8 288.4 483.4 288.4C483.1 288.5 482.7 288.4 482.3 288.3C481.9 288.1 481.5 287.8 481.1 287.4C480.7 287.0 480.3 286.5 480.0 285.9C479.6 285.3 479.3 284.6 478.9 283.9C478.6 283.1 478.3 282.3 478.1 281.4C477.8 280.6 477.6 279.6 477.5 278.7C477.3 277.8 477.2 276.9 477.1 276.0C477.1 275.1 477.1 274.2 477.1 273.4C477.1 272.6 477.2 271.8 477.4 271.1C477.5 270.5 477.7 269.8 477.9 269.3C478.2 268.8 478.4 268.4 478.8 268.1C479.1 267.8 479.4 267.6 479.8 267.6C480.1 267.5 480.7 267.7 480.9 267.7" fill="none" stroke="#000" stroke-width="3" stroke-linecap="round"/>
<path class="t" d="M483.2 269.2C483.4 269.3 483.9 269.5 484.2 269.8C484.5 270.1 484.9 270.5 485.2 271.0C485.5 271.5 485.8 272.1 486.1 272.7C486.3 273.4 486.6 274.1 486.8 274.9C487.0 275.6 487.2 276.4 487.4 277.2C487.5 278.0 487.6 278.9 487.7 279.7C487.7 280.4 487.7 281.2 487.7 281.9C487.6 282.6 487.6 283.3 487.4 283.9C487.3 284.4 487.2 285.0 487.0 285.3C486.8 285.7 486.4 286.1 486.3 286.2"/>
<path class="k" d="M478.5 268.5Q474.5 278 479.5 288"/>
</g>
<!-- INJECTOR -->
<g id="inj">
<!-- lower body -->
<path class="w" d="M446.6 341L445.8 350L428.6 356.8L428.1 377.5L430.6 383.4L431.6 384.4L430.6 388.3L428.1 393.3C427 399 430 403.5 433 405.5Q441.4 409 450 406.2C453.5 404 455.5 400 454.7 396.2L453.7 389.3V385.4L456.7 382.4L458.2 368.6L460.2 366.6L462.6 340Z"/>
<path class="k" d="M429.6 364.7Q443 371.5 460.2 366.6"/>
<path class="h" d="M443.4 350.8L439.9 383.8"/>
<path class="k" d="M440.9 351.8L438.4 383.4"/>
<path class="k" d="M429.6 381.4Q441.4 386.5 456.7 382.4"/>
<path class="k" d="M431.2 387.2Q441.4 391.5 453.7 387.8M430.6 390.2Q441.4 394.5 453.7 390.8"/>
<path class="k" d="M428.3 394Q441 400.5 454.6 396.8"/>
<path d="M428.6 399.5Q441 405.8 454 400.8C453 404 451.5 405.5 450 406.4Q441.4 409.4 433 405.7C430.5 404 429 402 428.6 399.5Z" fill="#000" stroke="#000" stroke-width="1"/>
<!-- connector underside -->
<path class="w" d="M433.3 331L445.6 341.8L444.9 349.1L434.7 351L434 359.9L428.9 352L422.4 347.6Z"/>
<path class="k" d="M428.9 352L434.7 351"/>
<path class="h" style="stroke-width:2.8" d="M405.6 337.6L422.2 348.2L429 352.6"/>
<!-- mid cylinder under clip -->
<path class="w" d="M444.2 328L444.2 337.4Q450.6 340.6 456.5 336.6L456.5 329.5Z"/>
<path class="k" d="M456.5 335.8L460.8 337.4L461.2 345M446.6 341.3Q453.7 343.3 460.8 339.8"/>
<!-- upper body cylinder -->
<path class="w" d="M434.8 300L434 316.9Q437.9 320.8 444.2 321.6L462.4 316L461.6 300Z"/>
<path class="k" d="M434.8 301.5Q447.4 306.5 461.6 302.8"/>
<!-- left clamp -->
<path class="w" d="M426.9 300L426.1 318L426.5 320.8L434.8 323.2L434.3 317L434.6 301Z"/>
<path class="t" d="M428 301L427.3 319.5"/>
<path class="h" d="M433.2 302.8Q429.4 307 428.9 319.2L433.8 316.3"/>
<!-- dark shadow -->
<path d="M434.3 317.5L444.2 322L444.2 335L434.8 325.5Z" fill="#000"/>
<!-- right clip -->
<path class="w" style="stroke-width:1.8" d="M444.2 321.6V317.6Q444.8 315 447.4 314.5L467.1 311.7V308.2L469.5 307.4L471.5 309L471.1 312.9L473.1 316.1L472.3 323.2L468.7 324.8L467.9 328.7L445.8 330.3L444.2 327.9Z"/>
<path class="k" d="M447.4 317.6L467.1 314.1M463.2 303.4V312"/>
<path d="M448.2 322.6L462.4 321V323.4L448.2 325Z" fill="#000" stroke="#000" stroke-width="0.8"/>
<!-- connector face -->
<path class="w" style="stroke-width:2.4" d="M418.1 320.5L405.4 336.8L422.4 347.6L433.3 331Z"/>
<path d="M418.5 324.1L409.4 335.3L421 341.8L428.9 330.3Z" fill="#000" stroke="#000" stroke-width="1" stroke-linejoin="round"/>
<path d="M414.6 334.6L417.6 329.6L422.6 332.6L420.4 336.4M419.4 330.8L417.2 334.4" fill="none" stroke="#fff" stroke-width="1.3" stroke-linecap="round" stroke-linejoin="round"/>
<path d="M411.6 334.8L418.2 326.6" fill="none" stroke="#fff" stroke-width="0.7"/>
<!-- bracket plate -->
<path class="w" style="stroke-width:1.7" d="M408.3 291.1C408.6 289.5 410.5 288 412.8 287.5L427 285.6H434.7Q437.5 285.9 439.2 286.9V294L460 295.5L461.7 290.4L464.2 292.3V294.9L465.5 296.2C464.5 298.5 463 299.3 461.7 299.7C459.5 300.8 457 301.2 454.6 301.3H445C441.5 300.8 438.5 300.2 436 299.4L430.2 296.2L423.8 293.6L422.2 296.2L421.8 299.4L419.3 300.4L408.3 293.6Z"/>
<path class="k" style="stroke-width:1.7" d="M410.3 290.1L421.2 289.5Q423.5 287.6 427 287.2H434.7L439.2 288.5"/>
<path class="k" style="stroke-width:1.7" d="M408.4 291.3L410.3 293L419.3 297.8L420.6 296.8L421.2 289.5"/>
<path class="k" style="stroke-width:1.7" d="M421.8 291.1L424.4 290.7L430.2 294.3L436 297.2Q440.5 298.5 445 299.1H454.6Q458 298.8 461 297.5Q463.5 296.3 464.2 294.9"/>
<path class="k" d="M422.2 296.2L430.8 298.8"/>
<!-- cap cylinder -->
<path class="w" d="M439.5 276.5L438.7 294.2Q449.8 298.6 460 295.4L461.6 276.9C461.6 274 456 272.5 450.6 272.5C445 272.5 439.5 274 439.5 276.5Z"/>
<path class="h" d="M439.6 276.8Q450.6 282 461.5 277"/>
</g>
<!-- FWD ARROW -->
<g id="fwd">
<path class="k" style="stroke-width:1.3" d="M55.5 711.5L75.4 686.2L80.6 689.5L104 677.4L109 680.4L110.9 695.2L82.8 709.5L83.7 716.7L60.3 714.2Z"/>
<path class="k" style="stroke-width:1.3" d="M60.3 714.2L80.3 689.8L81.2 693L109 680.4M81.2 693L82.8 709.5"/>
<text transform="matrix(0.9 -0.44 0.1 1.18 77.6 710.8)" font-family="'Liberation Serif',serif" font-weight="bold" font-style="italic" font-size="18" fill="#000" stroke="#000" stroke-width="0.7" textLength="28" lengthAdjust="spacingAndGlyphs">FWD</text>
</g>

</svg>
</body></html>
